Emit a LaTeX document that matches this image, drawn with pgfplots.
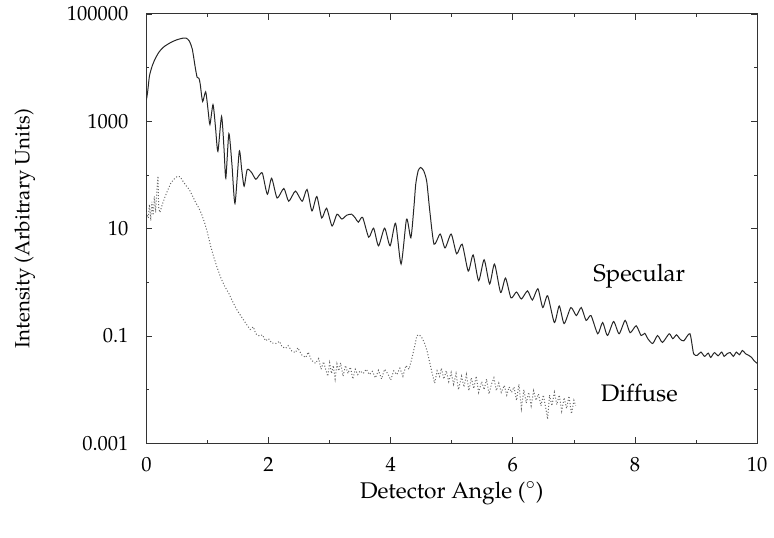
\documentclass[border=0pt]{standalone}
\usepackage[T1]{fontenc}
\usepackage{mathpazo}
\usepackage{pgfplots}
\pgfplotsset{compat=1.18}
\begin{document}
\begin{tikzpicture}
\begin{axis}[
  at={(0,0)}, anchor=south west,
  scale only axis, width=306.5pt, height=215.5pt,
  xmin=0, xmax=10, ymin=0.001, ymax=100000,
  ymode=log,
  xtick={0,2,4,6,8,10},
  ytick={0.001,0.1,10,1000,100000},
  yticklabels={0.001,0.1,10,1000,100000},
  minor ytick={0.01,1,100,10000},
  minor xtick={1,3,5,7,9},
  tick align=inside,
  major tick length=3pt, minor tick length=1.5pt,
  axis line style={line width=0.5pt, black!80},
  every tick/.style={black!80, line width=0.4pt},
  tick label style={font=\fontsize{10.3}{12}\selectfont},
  xticklabel style={yshift=-3.5pt},
  yticklabel style={xshift=-5.5pt},
  xlabel={Detector Angle ($^\circ$)},
  ylabel={Intensity (Arbitrary Units)},
  xlabel style={font=\fontsize{11.4}{13}\selectfont, at={(axis description cs:0.5,0)}, anchor=center, yshift=-25pt},
  ylabel style={font=\fontsize{10.3}{12}\selectfont, at={(axis description cs:0,0.5)}, anchor=center, yshift=61pt},
  clip=true,
]
\addplot[black!85, line width=0.5pt, smooth, tension=0.4] coordinates {
(0.00,2512)(0.02,3548)(0.05,7079)(0.10,11220)(0.15,15136)(0.20,19055)(0.25,22387)(0.30,25119)(0.40,29512)(0.50,33113)(0.60,35481)(0.65,35481)(0.70,31623)(0.75,22387)(0.80,10000)(0.83,6607)(0.86,6310)(0.88,5012)
(0.92,2344)(0.97,3548)(1.01,1585)(1.04,871)(1.09,2042)(1.13,794)(1.17,275)(1.23,1230)(1.27,316)(1.30,87.1)(1.35,589)(1.40,158)(1.45,29.5)(1.52,275)(1.56,126)(1.60,61.7)(1.65,126)(1.72,112)(1.79,83.2)(1.85,100)(1.90,107)
(1.98,43.7)(2.05,87.1)(2.14,37.2)(2.25,56.2)(2.33,32.4)(2.44,50.1)(2.55,32.4)(2.63,53.7)(2.71,21.4)(2.79,39.8)(2.87,15.8)(2.95,24.0)(3.04,11.2)(3.12,18.6)(3.20,15.1)(3.28,17.8)(3.36,18.6)(3.42,15.8)(3.47,13.2)(3.54,16.2)
(3.64,6.92)(3.72,10.2)(3.80,4.79)(3.90,10.2)(3.99,4.79)(4.08,12.6)(4.17,2.19)(4.26,15.1)(4.33,6.76)(4.38,25.1)(4.41,67.6)(4.45,120)(4.49,138)(4.54,120)(4.59,75.9)(4.64,21.4)(4.71,5.13)(4.81,7.94)(4.89,4.37)(4.99,7.94)
(5.08,3.39)(5.17,5.13)(5.27,1.62)(5.35,3.24)(5.44,1.07)(5.53,2.63)(5.62,0.933)(5.70,2.19)(5.80,0.646)(5.88,1.20)(5.97,0.513)(6.06,0.661)(6.14,0.490)(6.24,0.692)(6.32,0.468)(6.41,0.759)(6.49,0.339)(6.57,0.562)
(6.68,0.178)(6.76,0.363)(6.84,0.170)(6.95,0.339)(7.04,0.240)(7.12,0.339)(7.20,0.195)(7.28,0.240)(7.39,0.110)(7.47,0.178)(7.55,0.102)(7.65,0.186)(7.74,0.110)(7.84,0.195)(7.92,0.115)(8.02,0.155)(8.10,0.102)(8.16,0.112)
(8.21,0.0891)(8.29,0.0724)(8.37,0.102)(8.45,0.0759)(8.56,0.110)(8.62,0.0891)(8.68,0.105)(8.74,0.0871)(8.80,0.0813)(8.90,0.110)(8.96,0.0468)(9.02,0.0437)(9.08,0.0501)(9.14,0.0417)(9.20,0.0479)(9.24,0.0398)(9.30,0.0490)
(9.36,0.0427)(9.42,0.0501)(9.46,0.0417)(9.51,0.0468)(9.56,0.0490)(9.61,0.0417)(9.66,0.0501)(9.71,0.0447)(9.76,0.0537)(9.81,0.0468)(9.86,0.0437)(9.91,0.0398)(9.95,0.0347)(10.0,0.0309)
};
\addplot[black!60, line width=0.5pt, densely dotted] coordinates {
(0.00,20.0)(0.03,15.8)(0.05,28.2)(0.07,14.1)(0.09,31.6)(0.11,17.8)(0.13,39.8)(0.15,20.0)(0.17,50.1)(0.19,95.5)(0.20,25.1)(0.22,20.0)(0.26,28.2)(0.30,38.0)(0.35,52.5)(0.40,70.8)(0.45,83.2)(0.50,93.3)(0.55,93.3)
(0.60,75.9)(0.65,63.1)(0.70,53.7)(0.75,41.7)(0.80,31.6)(0.86,24.0)(0.90,19.1)(0.95,13.2)(1.00,8.32)(1.05,4.79)(1.10,3.02)(1.15,2.00)(1.22,1.20)(1.28,0.851)(1.35,0.617)(1.42,0.417)(1.49,0.295)(1.56,0.224)
(1.63,0.170)(1.70,0.132)(1.75,0.148)(1.79,0.110)(1.85,0.1)(1.90,0.105)(1.95,0.0813)(2.00,0.0891)(2.05,0.0741)(2.12,0.0724)(2.18,0.0794)(2.22,0.0631)(2.28,0.0589)(2.32,0.0661)(2.38,0.0525)(2.44,0.0490)(2.48,0.0603)
(2.54,0.0447)(2.61,0.0398)(2.65,0.0501)(2.70,0.0355)(2.77,0.0309)(2.82,0.0380)(2.86,0.0240)(2.90,0.0331)(2.93,0.0251)(2.97,0.0178)(3.00,0.0316)(3.03,0.0200)(3.06,0.0282)(3.09,0.0158)(3.12,0.0302)(3.15,0.0224)
(3.18,0.0316)(3.22,0.0178)(3.26,0.0282)(3.30,0.0200)(3.34,0.0263)(3.38,0.0158)(3.42,0.0240)(3.46,0.0191)(3.50,0.0224)(3.55,0.0200)(3.60,0.0240)(3.65,0.0191)(3.70,0.0219)(3.75,0.0166)(3.80,0.0229)(3.85,0.0158)
(3.90,0.0240)(3.95,0.0200)(4.00,0.0151)(4.05,0.0224)(4.10,0.0191)(4.15,0.0251)(4.20,0.0178)(4.25,0.0282)(4.30,0.0240)(4.35,0.0398)(4.40,0.0708)(4.43,0.102)(4.47,0.105)(4.51,0.0933)(4.56,0.0708)(4.60,0.0501)
(4.64,0.0316)(4.68,0.0200)(4.72,0.0132)(4.76,0.0224)(4.80,0.0178)(4.83,0.0251)(4.87,0.0158)(4.91,0.0224)(4.95,0.0141)(4.99,0.0209)(5.03,0.0126)(5.07,0.0200)(5.11,0.0100)(5.16,0.0178)(5.20,0.0112)(5.24,0.0191)
(5.28,0.00955)(5.32,0.0166)(5.36,0.0105)(5.40,0.0178)(5.44,0.00891)(5.49,0.0141)(5.53,0.0100)(5.57,0.0158)(5.61,0.00832)(5.65,0.0126)(5.69,0.0166)(5.73,0.00955)(5.77,0.0132)(5.81,0.00891)(5.86,0.0120)
(5.90,0.00794)(5.94,0.0112)(5.98,0.00891)(6.02,0.0112)(6.06,0.00631)(6.10,0.0126)(6.14,0.00447)(6.18,0.0100)(6.22,0.00562)(6.26,0.00891)(6.30,0.00501)(6.34,0.00955)(6.38,0.00631)(6.42,0.00832)(6.46,0.00501)
(6.50,0.00794)(6.54,0.00447)(6.57,0.00282)(6.60,0.00794)(6.64,0.00501)(6.68,0.00891)(6.72,0.00525)(6.76,0.00794)(6.80,0.00398)(6.84,0.00708)(6.88,0.00447)(6.92,0.00759)(6.96,0.00355)(7.00,0.00631)(7.03,0.00501)
};
\node[font=\fontsize{12}{14}\selectfont, black] at (axis cs:8.07,1.3) {Specular};
\node[font=\fontsize{12}{14}\selectfont, black] at (axis cs:8.07,0.0085) {Diffuse};
\end{axis}
\path (-73.5pt,-47.5pt) rectangle (313.5pt,221.5pt);
\end{tikzpicture}
\end{document}
